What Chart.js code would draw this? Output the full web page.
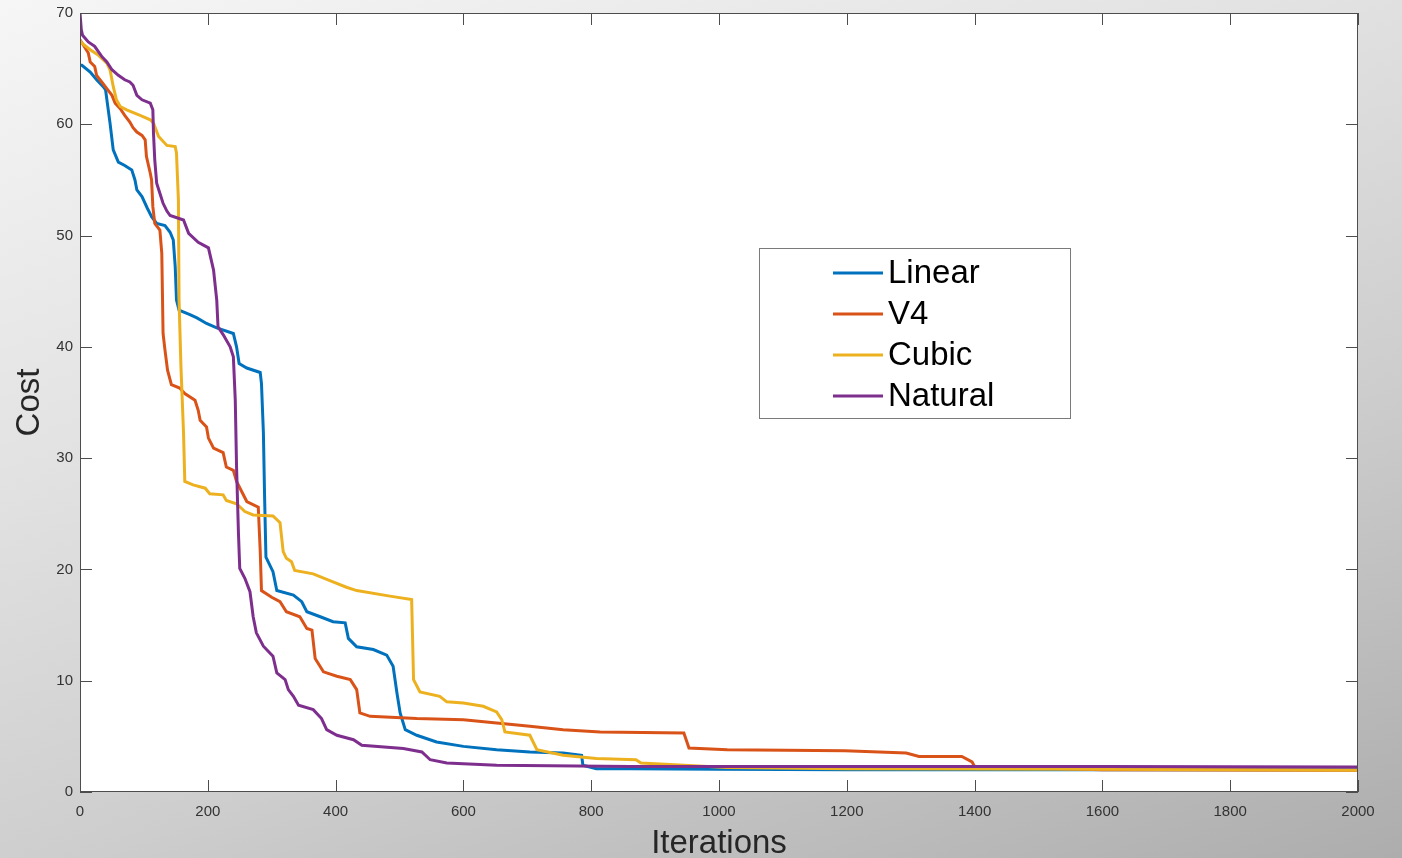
<!DOCTYPE html>
<html>
<head>
<meta charset="utf-8">
<script src="https://cdn.jsdelivr.net/npm/chart.js@4.4.1/dist/chart.umd.min.js"></script>
<style>
  html, body { margin: 0; padding: 0; }
  body {
    width: 1402px; height: 858px; overflow: hidden;
    background: linear-gradient(160deg, #f6f6f6 0%, #e2e2e2 35%, #cdcdcd 65%, #adadad 100%);
  }
  #wrap { position: relative; width: 1402px; height: 858px; }
</style>
</head>
<body>
<div id="wrap"><canvas id="myChart" width="1402" height="858"></canvas></div>
<script>
// values (iteration, cost)
const linearIter = [0,3,16,26,36,40,47,52,60,70,81,86,89,97,105,112,120,133,141,146,149,151,155,172,183,198,214,240,245,249,261,282,284,287,289,291,302,308,334,347,355,376,396,415,420,433,459,480,490,496,501,509,527,558,600,652,704,756,785,787,808,861,1000,1200,1600,2000];
const linearCost = [65.3,65.3,64.7,64.0,63.4,63.1,60.1,57.7,56.6,56.3,55.9,55.0,54.1,53.5,52.5,51.7,51.1,50.9,50.3,49.6,47.2,44.2,43.3,42.9,42.6,42.1,41.7,41.2,40.0,38.5,38.1,37.7,36.7,32.3,26.2,21.1,19.8,18.1,17.7,17.1,16.2,15.75,15.3,15.2,13.8,13.05,12.8,12.3,11.3,8.9,7.1,5.6,5.1,4.5,4.1,3.8,3.6,3.5,3.3,2.4,2.1,2.1,2.05,2.0,2.0,2.0];

const v4Iter = [0,13,16,23,26,34,42,50,55,63,70,78,83,89,97,102,104,110,112,114,117,125,128,130,133,137,143,156,164,180,185,188,198,201,209,224,229,240,245,253,261,279,282,284,300,313,323,344,355,363,368,381,402,423,433,438,454,527,600,652,704,756,814,945,953,1013,1197,1293,1313,1380,1396,1400,1600,2000];
const v4Cost = [67.6,66.4,65.6,65.2,64.4,63.8,63.2,62.6,61.9,61.4,60.8,60.2,59.7,59.3,59.0,58.6,57.1,55.6,55.0,52.6,51.1,50.5,48.4,41.2,39.7,37.9,36.6,36.3,35.8,35.2,34.3,33.4,32.8,31.8,30.9,30.5,29.2,28.9,27.9,27.0,26.1,25.6,21.7,18.1,17.5,17.1,16.2,15.75,14.7,14.55,12.0,10.8,10.4,10.1,9.2,7.1,6.8,6.6,6.5,6.2,5.9,5.6,5.4,5.3,3.95,3.8,3.7,3.5,3.2,3.2,2.7,2.3,2.0,1.95];

const cubicIter = [0,3,16,29,42,47,52,57,63,73,94,110,115,123,136,149,151,154,155,158,162,164,177,196,203,224,229,245,258,271,302,313,318,323,331,336,365,391,417,433,485,519,522,532,563,574,600,631,652,660,665,704,715,756,808,870,878,1013,1200,1600,2000];
const cubicCost = [67.5,67.3,66.7,66.2,65.5,64.9,63.4,62.2,61.6,61.3,60.8,60.4,60.1,58.9,58.1,58.0,57.4,53.2,44.2,38.2,32.3,27.9,27.6,27.3,26.8,26.7,26.2,25.9,25.2,24.9,24.8,24.2,21.6,21.0,20.7,19.9,19.6,19.0,18.4,18.1,17.6,17.3,10.1,9.0,8.6,8.1,8.0,7.7,7.2,6.5,5.4,5.1,3.8,3.3,3.0,2.9,2.6,2.2,2.1,2.05,1.95];

const naturalIter = [0,2,4,13,23,29,34,42,50,60,70,78,83,89,97,110,114,115,117,120,125,130,136,141,162,170,185,201,209,214,216,224,235,240,243,245,248,250,258,266,271,276,287,302,308,321,326,334,342,365,378,386,402,428,441,506,535,548,574,652,861,1200,1600,2000];
const naturalCost = [70,68.5,68.0,67.4,67.0,66.5,66.1,65.6,64.9,64.4,64.0,63.8,63.5,62.6,62.2,61.9,61.3,59.2,56.8,54.7,53.8,52.9,52.2,51.8,51.4,50.2,49.4,48.9,46.9,44.2,41.8,41.1,40.0,39.1,35.2,29.2,23.2,20.1,19.2,18.0,15.75,14.3,13.1,12.2,10.7,10.1,9.2,8.6,7.8,7.4,6.6,5.6,5.1,4.7,4.2,3.9,3.6,2.9,2.6,2.4,2.3,2.3,2.3,2.25];

const seriesNames = ['Linear', 'V4', 'Cubic', 'Natural'];
const seriesColors = ['#0072BD', '#D95319', '#EDB120', '#7E2F8E'];
const xTitle = 'Iterations';
const yTitle = 'Cost';

const toPoints = (xs, ys) => xs.map((x, i) => ({x: x, y: ys[i]}));
const allSeries = [
   toPoints(linearIter, linearCost),
   toPoints(v4Iter, v4Cost),
   toPoints(cubicIter, cubicCost),
   toPoints(naturalIter, naturalCost)
];

// white plot area, matlab style box with inward ticks, legend inside the axes
const matlabAxes = {
   id: 'matlabAxes',
   beforeDraw(chart) {
      const {ctx, chartArea: a} = chart;
      ctx.save();
      ctx.fillStyle = '#ffffff';
      ctx.fillRect(a.left, a.top, a.right - a.left, a.bottom - a.top);
      ctx.restore();
   },
   afterDraw(chart) {
      const {ctx, chartArea: a, scales} = chart;
      const tl = 12;
      ctx.save();
      ctx.strokeStyle = '#4d4d4d';
      ctx.lineWidth = 1;
      ctx.strokeRect(a.left + 0.5, a.top + 0.5, a.right - a.left - 1, a.bottom - a.top - 1);
      ctx.beginPath();
      scales.x.ticks.forEach(t => {
         const px = Math.round(scales.x.getPixelForValue(t.value)) + 0.5;
         ctx.moveTo(px, a.bottom); ctx.lineTo(px, a.bottom - tl);
         ctx.moveTo(px, a.top); ctx.lineTo(px, a.top + tl);
      });
      scales.y.ticks.forEach(t => {
         const py = Math.round(scales.y.getPixelForValue(t.value)) + 0.5;
         ctx.moveTo(a.left, py); ctx.lineTo(a.left + tl, py);
         ctx.moveTo(a.right, py); ctx.lineTo(a.right - tl, py);
      });
      ctx.stroke();

      // legend box
      const bx = 759, by = 248, bw = 311, bh = 170;
      ctx.fillStyle = '#ffffff';
      ctx.fillRect(bx, by, bw, bh);
      ctx.strokeStyle = '#7a7a7a';
      ctx.strokeRect(bx + 0.5, by + 0.5, bw, bh);
      ctx.font = '33px "Liberation Sans", Arial, sans-serif';
      ctx.textBaseline = 'middle';
      ctx.fillStyle = '#000000';
      chart.data.datasets.forEach((ds, i) => {
         const cy = by + 25 + i * 41;
         ctx.strokeStyle = ds.borderColor;
         ctx.lineWidth = 3;
         ctx.beginPath();
         ctx.moveTo(833, cy); ctx.lineTo(883, cy);
         ctx.stroke();
         ctx.fillText(ds.label, 888, cy + 1);
      });
      ctx.restore();
   }
};

const tickFont = { family: '"Liberation Sans", Arial, sans-serif', size: 15 };

const ctx = document.getElementById('myChart').getContext('2d');
const chart = new Chart(ctx, {
   type: 'line',
   data: {
      datasets: allSeries.map((pts, i) => ({
         label: seriesNames[i],
         data: pts,
         borderColor: seriesColors[i],
         backgroundColor: seriesColors[i],
         borderWidth: 3,
         pointRadius: 0,
         tension: 0,
         fill: false,
         order: 3 - i
      }))
   },
   options: {
      responsive: false,
      animation: false,
      layout: { padding: { top: 13, right: 44, left: 0, bottom: 0 } },
      plugins: { legend: { display: false }, tooltip: { enabled: false } },
      scales: {
         x: {
            type: 'linear', min: 0, max: 2000,
            grid: { display: false, drawTicks: false }, border: { display: false },
            ticks: { stepSize: 200, padding: 11, color: '#333333', font: tickFont, maxRotation: 0, callback: v => String(v) },
            title: { display: true, text: xTitle, color: '#262626', padding: 0, font: { family: '"Liberation Sans", Arial, sans-serif', size: 33, lineHeight: 0.85 } },
            afterFit(scale) { scale.height = 66; scale.paddingLeft = 0; scale.paddingRight = 0; }
         },
         y: {
            type: 'linear', min: 0, max: 70,
            grid: { display: false, drawTicks: false }, border: { display: false },
            ticks: { stepSize: 10, padding: 7, color: '#333333', font: tickFont, callback: v => String(v) },
            title: { display: true, text: yTitle, color: '#262626', padding: { top: 13, bottom: 0 }, font: { family: '"Liberation Sans", Arial, sans-serif', size: 33, lineHeight: 1 } },
            afterFit(scale) { scale.width = 80; scale.paddingTop = 0; scale.paddingBottom = 0; }
         }
      }
   },
   plugins: [matlabAxes]
});
</script>
</body>
</html>
